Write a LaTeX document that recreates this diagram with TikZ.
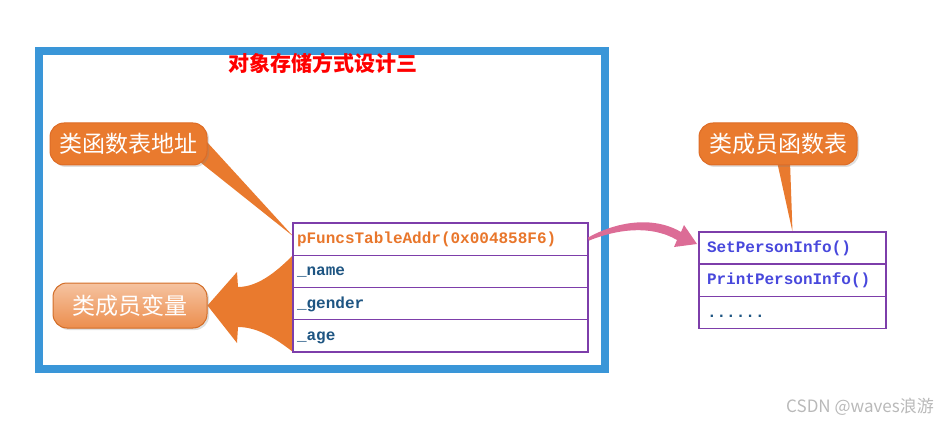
\documentclass[tikz,border=0pt]{standalone}
\usepackage{fontspec}
\setmonofont{Liberation Mono}
\newfontfamily\cjk{Noto Sans CJK SC}
\usetikzlibrary{calc, positioning, shapes, shadows, backgrounds}

\definecolor{frameblue}{RGB}{58,150,216}
\definecolor{cellpurple}{RGB}{125,62,170}
\definecolor{bubbleorange}{RGB}{233,122,46}
\definecolor{bubbleedge}{RGB}{222,108,38}
\definecolor{membertext}{RGB}{30,85,130}
\definecolor{addrtext}{RGB}{232,118,43}
\definecolor{functext}{RGB}{72,72,220}
\definecolor{pinkarrow}{RGB}{220,108,150}

\tikzset{
    membercell/.style={draw=cellpurple, line width=1.4pt, rectangle, minimum height=32.25pt,
        text width=287pt, text height=11pt, text depth=2pt, inner xsep=4pt, inner ysep=0pt, outer sep=0pt, align=left,
        font=\ttfamily\bfseries\fontsize{16}{16}\selectfont, text=membertext},
    funccell/.style={membercell, text width=171pt, inner xsep=8pt, text=functext},
    bubble/.style={rectangle, rounded corners=14pt, fill=bubbleorange, draw=bubbleedge, line width=1pt,
        text=white, font=\cjk\fontsize{23}{23}\selectfont, minimum height=42pt, inner sep=0pt,
        drop shadow={opacity=0.25, shadow xshift=2pt, shadow yshift=-2pt}}
}

\begin{document}
\begin{tikzpicture}[x=1pt, y=-1pt]
    \useasboundingbox (0,0) rectangle (939,422);
    \draw[frameblue, line width=8pt] (39,51) rectangle (604.5,368.5);

    \node[text=red, font=\cjk\bfseries\fontsize{21}{21}\selectfont] (title) at (323,63) {对象存储方式设计三};

    \node[membercell, text=addrtext] (addr) at (440.5,239.1) {pFuncsTableAddr(0x004858F6)};
    \node[membercell] (name) [below=0pt of addr] {\_name};
    \node[membercell] (gender) [below=0pt of name] {\_gender};
    \node[membercell] (age) [below=0pt of gender] {\_age};

    \node[funccell] (setinfo) at (792.5,248) {SetPersonInfo()};
    \node[funccell] (printinfo) [below=0pt of setinfo] {PrintPersonInfo()};
    \node[funccell, text=membertext] (more) [below=0pt of printinfo] {......};

    \node[bubble, minimum width=157pt] (fnaddr) at (128.5,144) {类函数表地址};
    \node[bubble, minimum width=154pt, minimum height=45pt, draw=bubbleorange!90!black,
        top color=bubbleorange!45!white, bottom color=bubbleorange!85!white] (members) at (130,305.5) {类成员变量};
    \node[bubble, minimum width=158pt] (fntab) at (778,144) {类成员函数表};

    \begin{scope}[on background layer]
        \fill[bubbleorange] ($(fnaddr.east)+(-6,-8)$) -- ($(addr.west)+(0,-3)$) -- ($(fnaddr.east)+(-10,16)$) -- cycle;
        \fill[bubbleorange] ($(fntab.south)+(-1,-4)$) -- (setinfo.north) -- ($(fntab.south)+(12,-4)$) -- cycle;
        \fill[bubbleorange] (name.north west) .. controls (280,268) and (260,287) .. (238,287) -- (237,272)
            -- (members.east) -- (237,343) -- (238,327) .. controls (260,327) and (280,342) .. (age.south west) -- cycle;
    \end{scope}

    \fill[pinkarrow] ($(addr.east)+(0,-1.5)$) .. controls (612,224) and (650,214) .. (681,232) -- (684,225)
        -- ($(setinfo.west)+(-2,-4)$) -- (674,247) -- (677,240) .. controls (650,224) and (615,230) .. ($(addr.east)+(1,1.5)$) -- cycle;

    \node[text=gray!55, font=\cjk\fontsize{17}{17}\selectfont] (mark) at (860,407) {CSDN @waves浪游};
\end{tikzpicture}
\end{document}
